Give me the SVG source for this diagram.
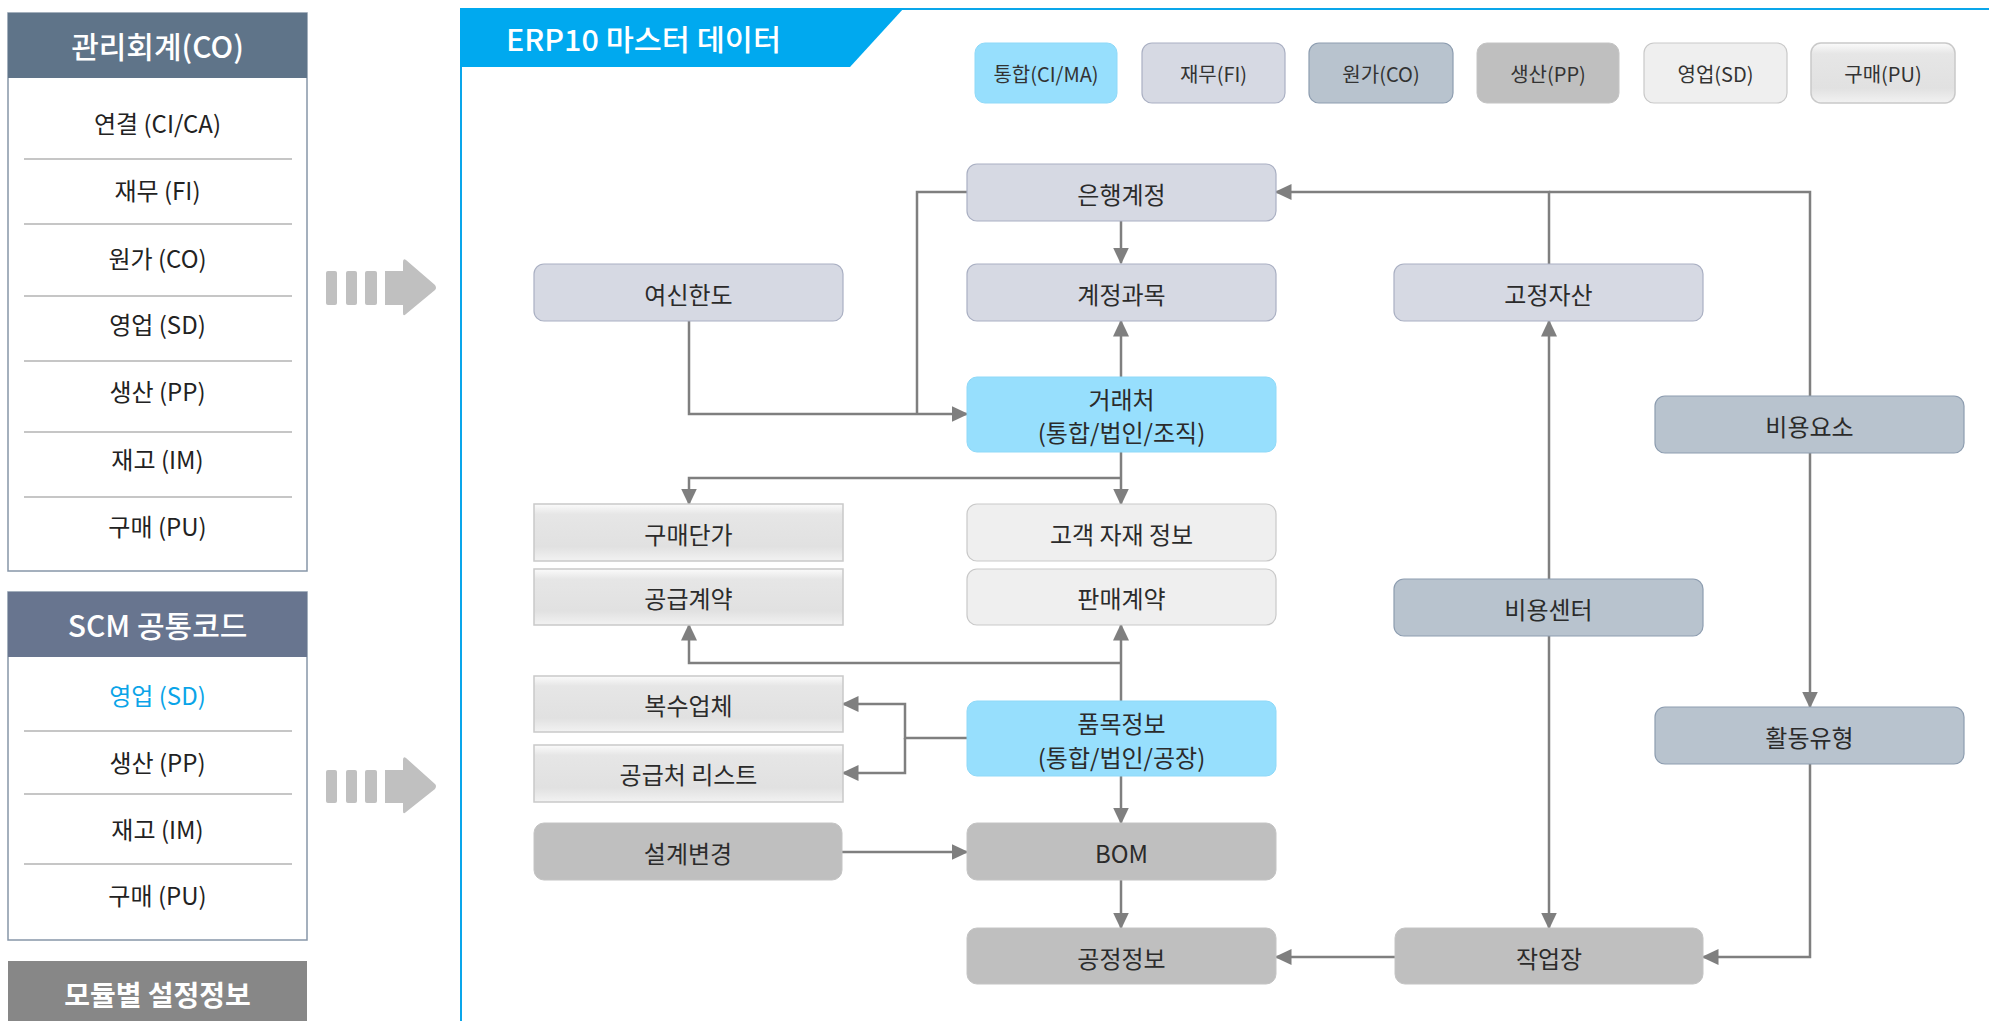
<svg xmlns="http://www.w3.org/2000/svg" width="1989" height="1021" viewBox="0 0 1989 1021">
<style>
text{font-family:"Noto Sans CJK KR","Noto Sans",sans-serif;fill:#333;text-anchor:middle;dominant-baseline:central}
.hdr{fill:#fff;font-size:30px;font-weight:500}
.item{font-size:24px;fill:#222}
.leg{font-size:20px}
.lbl{font-size:24px;fill:#2b2b2b}
.sep{stroke:#b3b3b3;stroke-width:1.5}
.fi{fill:#d6d9e3;stroke:#aab0c3;stroke-width:1.2}
.co{fill:#b8c3ce;stroke:#8d9db0;stroke-width:1.2}
.pp{fill:#bfbfbf;stroke:#c4c4c4;stroke-width:1}
.sd{fill:#efefef;stroke:#c9c9c9;stroke-width:1.2}
.pu{fill:url(#puGrad);stroke:#c9c9c9;stroke-width:1.5}
.ci{fill:#97dffd;stroke:#8fd9f8;stroke-width:1}
.conn path{fill:none;stroke:#7f7f7f;stroke-width:2.5}
.arr{marker-end:url(#ah)}
.big{fill:#c0c0c0}
</style>
<defs>
<linearGradient id="puGrad" x1="0" y1="0" x2="0" y2="1">
<stop offset="0" stop-color="#fbfbfb"/>
<stop offset="0.18" stop-color="#e6e6e6"/>
<stop offset="0.75" stop-color="#e1e1e1"/>
<stop offset="1" stop-color="#f2f2f2"/>
</linearGradient>
<marker id="ah" viewBox="0 0 17 16" refX="15.5" refY="8" markerWidth="17" markerHeight="16" markerUnits="userSpaceOnUse" orient="auto">
<path d="M0,0 L17,8 L0,16 z" fill="#7f7f7f"/>
</marker>
</defs>
<rect x="0" y="0" width="1989" height="1021" fill="#fff"/>

<!-- Left panel: 관리회계 -->
<g id="panel-co">
<rect x="8" y="13" width="299" height="558" fill="#fff" stroke="#8796a8" stroke-width="1.5"/>
<rect x="8" y="13" width="299" height="65" fill="#5f7489"/>
<text class="hdr" x="157.5" y="45">관리회계(CO)</text>
<text class="item" x="157.5" y="122">연결 (CI/CA)</text>
<line class="sep" x1="24" y1="159" x2="292" y2="159"/>
<text class="item" x="157.5" y="189">재무 (FI)</text>
<line class="sep" x1="24" y1="224" x2="292" y2="224"/>
<text class="item" x="157.5" y="257">원가 (CO)</text>
<line class="sep" x1="24" y1="296" x2="292" y2="296"/>
<text class="item" x="157.5" y="323">영업 (SD)</text>
<line class="sep" x1="24" y1="361" x2="292" y2="361"/>
<text class="item" x="157.5" y="390">생산 (PP)</text>
<line class="sep" x1="24" y1="432" x2="292" y2="432"/>
<text class="item" x="157.5" y="458">재고 (IM)</text>
<line class="sep" x1="24" y1="497" x2="292" y2="497"/>
<text class="item" x="157.5" y="525">구매 (PU)</text>
</g>

<!-- Left panel: SCM -->
<g id="panel-scm">
<rect x="8" y="592" width="299" height="348" fill="#fff" stroke="#8796a8" stroke-width="1.5"/>
<rect x="8" y="592" width="299" height="65" fill="#68758f"/>
<text class="hdr" x="157.5" y="624">SCM 공통코드</text>
<text class="item" x="157.5" y="694" style="fill:#0aa4e8">영업 (SD)</text>
<line class="sep" x1="24" y1="731" x2="292" y2="731"/>
<text class="item" x="157.5" y="761">생산 (PP)</text>
<line class="sep" x1="24" y1="794" x2="292" y2="794"/>
<text class="item" x="157.5" y="828">재고 (IM)</text>
<line class="sep" x1="24" y1="864" x2="292" y2="864"/>
<text class="item" x="157.5" y="894">구매 (PU)</text>
</g>

<g id="panel-module">
<rect x="8" y="961" width="299" height="62" fill="#878787"/>
<text class="hdr" x="157.5" y="994" style="font-size:28px;font-weight:700">모듈별 설정정보</text>
</g>

<!-- Big gray arrows -->
<g id="bigarrow1">
<rect class="big" x="326" y="271" width="11" height="34" rx="2"/>
<rect class="big" x="346" y="271" width="11" height="34" rx="2"/>
<rect class="big" x="365" y="271" width="12" height="34" rx="2"/>
<path class="big" d="M385,271 H403 V262 Q403,258 406,260 L435,285 Q437,288 435,290 L406,314 Q403,317 403,313 V305 H385 Z"/>
</g>
<g id="bigarrow2">
<rect class="big" x="326" y="770" width="11" height="33" rx="2"/>
<rect class="big" x="346" y="770" width="11" height="33" rx="2"/>
<rect class="big" x="365" y="770" width="12" height="33" rx="2"/>
<path class="big" d="M385,770 H403 V760 Q403,756 406,758 L435,784 Q437,786 435,789 L406,812 Q403,815 403,811 V803 H385 Z"/>
</g>

<!-- ERP panel frame -->
<g id="erp-frame">
<line x1="461" y1="8" x2="461" y2="1021" stroke="#0aa6ea" stroke-width="2"/>
<line x1="880" y1="9" x2="1989" y2="9" stroke="#0aa6ea" stroke-width="2"/>
<path d="M460,8 H904 L850,67 H460 Z" fill="#00a9ef"/>
<text x="506" y="38" textLength="275" lengthAdjust="spacingAndGlyphs" style="fill:#fff;font-size:29px;font-weight:500;text-anchor:start">ERP10 마스터 데이터</text>
</g>

<!-- Legend -->
<g id="legend">
<rect class="ci" x="975" y="43" width="142" height="60" rx="10"/>
<text class="leg" x="1046" y="73">통합(CI/MA)</text>
<rect class="fi" x="1142" y="43" width="143" height="60" rx="10"/>
<text class="leg" x="1213.5" y="73">재무(FI)</text>
<rect class="co" x="1309" y="43" width="144" height="60" rx="10"/>
<text class="leg" x="1381" y="73">원가(CO)</text>
<rect class="pp" x="1477" y="43" width="142" height="60" rx="10"/>
<text class="leg" x="1548" y="73">생산(PP)</text>
<rect class="sd" x="1644" y="43" width="143" height="60" rx="10"/>
<text class="leg" x="1715.5" y="73">영업(SD)</text>
<rect class="pu" x="1811" y="43" width="144" height="60" rx="10"/>
<text class="leg" x="1883" y="73">구매(PU)</text>
</g>

<!-- Connectors -->
<g id="connectors" class="conn">
<path class="arr" d="M1121,221 V263"/>
<path class="arr" d="M1121,377 V321"/>
<path d="M967,192 H917 V414"/>
<path class="arr" d="M689,321 V414 H967"/>
<path class="arr" d="M1121,452 V504"/>
<path class="arr" d="M1121,478 H689 V504"/>
<path class="arr" d="M1121,701 V625"/>
<path class="arr" d="M1121,663 H689 V625"/>
<path class="arr" d="M967,738 H905 V704 H843"/>
<path class="arr" d="M905,738 V773 H843"/>
<path class="arr" d="M1121,776 V823"/>
<path class="arr" d="M842,852 H967"/>
<path class="arr" d="M1121,880 V928"/>
<path class="arr" d="M1395,957 H1276"/>
<path d="M1810,396 V192 H1549"/>
<path class="arr" d="M1549,264 V192 H1276"/>
<path class="arr" d="M1549,579 V321"/>
<path class="arr" d="M1549,636 V928"/>
<path class="arr" d="M1810,453 V707"/>
<path class="arr" d="M1810,764 V957 H1703"/>
</g>

<!-- Nodes -->
<g id="n-bank"><rect class="fi" x="967" y="164" width="309" height="57" rx="10"/><text class="lbl" x="1121.5" y="193">은행계정</text></g>
<g id="n-account"><rect class="fi" x="967" y="264" width="309" height="57" rx="10"/><text class="lbl" x="1121.5" y="293">계정과목</text></g>
<g id="n-credit"><rect class="fi" x="534" y="264" width="309" height="57" rx="10"/><text class="lbl" x="688.5" y="293">여신한도</text></g>
<g id="n-asset"><rect class="fi" x="1394" y="264" width="309" height="57" rx="10"/><text class="lbl" x="1548.5" y="293">고정자산</text></g>
<g id="n-partner"><rect class="ci" x="967" y="377" width="309" height="75" rx="10"/><text class="lbl" x="1121.5" y="398">거래처</text><text class="lbl" x="1121.5" y="431">(통합/법인/조직)</text></g>
<g id="n-costelem"><rect class="co" x="1655" y="396" width="309" height="57" rx="10"/><text class="lbl" x="1809.5" y="425">비용요소</text></g>
<g id="n-price"><rect class="pu" x="534" y="504" width="309" height="57"/><text class="lbl" x="688.5" y="533">구매단가</text></g>
<g id="n-supply"><rect class="pu" x="534" y="569" width="309" height="56"/><text class="lbl" x="688.5" y="597">공급계약</text></g>
<g id="n-custmat"><rect class="sd" x="967" y="504" width="309" height="57" rx="10"/><text class="lbl" x="1121.5" y="533">고객 자재 정보</text></g>
<g id="n-sales"><rect class="sd" x="967" y="569" width="309" height="56" rx="10"/><text class="lbl" x="1121.5" y="597">판매계약</text></g>
<g id="n-costcenter"><rect class="co" x="1394" y="579" width="309" height="57" rx="10"/><text class="lbl" x="1548.5" y="608">비용센터</text></g>
<g id="n-multi"><rect class="pu" x="534" y="676" width="309" height="56"/><text class="lbl" x="688.5" y="704">복수업체</text></g>
<g id="n-item"><rect class="ci" x="967" y="701" width="309" height="75" rx="10"/><text class="lbl" x="1121.5" y="722">품목정보</text><text class="lbl" x="1121.5" y="756">(통합/법인/공장)</text></g>
<g id="n-activity"><rect class="co" x="1655" y="707" width="309" height="57" rx="10"/><text class="lbl" x="1809.5" y="736">활동유형</text></g>
<g id="n-supplist"><rect class="pu" x="534" y="745" width="309" height="57"/><text class="lbl" x="688.5" y="773">공급처 리스트</text></g>
<g id="n-ecn"><rect class="pp" x="534" y="823" width="308" height="57" rx="10"/><text class="lbl" x="688" y="852">설계변경</text></g>
<g id="n-bom"><rect class="pp" x="967" y="823" width="309" height="57" rx="10"/><text class="lbl" x="1121.5" y="852">BOM</text></g>
<g id="n-routing"><rect class="pp" x="967" y="928" width="309" height="56" rx="10"/><text class="lbl" x="1121.5" y="957">공정정보</text></g>
<g id="n-workcenter"><rect class="pp" x="1395" y="928" width="308" height="56" rx="10"/><text class="lbl" x="1549" y="957">작업장</text></g>
</svg>
